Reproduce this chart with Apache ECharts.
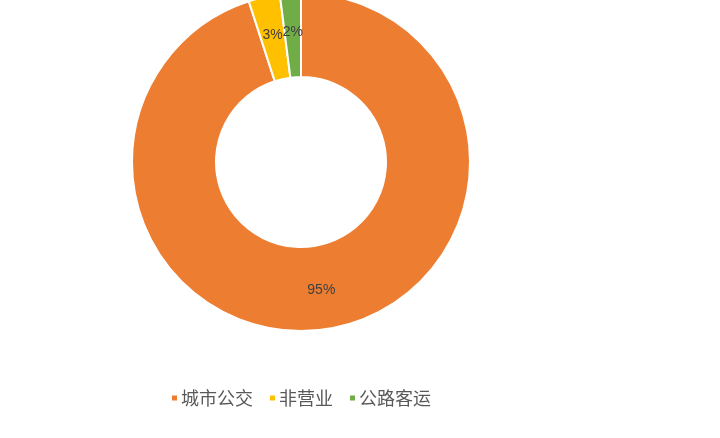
<!DOCTYPE html>
<html><head><meta charset="utf-8">
<script src="https://cdn.jsdelivr.net/npm/echarts@6/dist/echarts.min.js"></script>
<style>html,body{margin:0;padding:0;background:#fff}#c{width:720px;height:438px}</style>
</head><body><div id="c"></div>
<script>
const categories = ['城市公交', '非营业', '公路客运'];
const values = [95, 3, 2];
const colors = ['#ED7D31', '#FFC000', '#70AD47'];

const chart = echarts.init(document.getElementById('c'));
chart.setOption({
  animation: false,
  color: colors,
  legend: {
    top: 384,
    left: 165,
    icon: 'rect',
    itemWidth: 7,
    itemHeight: 7,
    itemGap: 15,
    textStyle: { fontSize: 18, color: '#595959', fontFamily: 'Noto Sans CJK SC', padding: [0, 0, 0, -2] },
    data: categories
  },
  series: [{
    type: 'pie',
    center: [301, 162],
    radius: [85, 169],
    startAngle: 90,
    clockwise: true,
    itemStyle: { borderColor: '#fff', borderWidth: 2 },
    label: {
      show: true,
      position: 'inside',
      formatter: '{d}%',
      color: '#404040',
      fontSize: 14,
      fontFamily: 'Liberation Sans'
    },
    labelLine: { show: false },
    data: categories.map((n, i) => ({ name: n, value: values[i] }))
  }]
});
</script></body></html>
